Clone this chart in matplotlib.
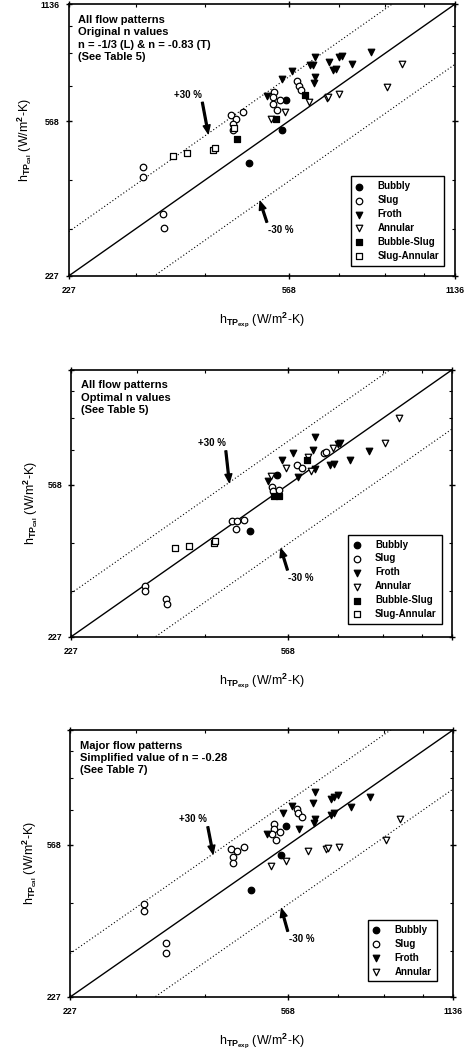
import numpy as np
import matplotlib.pyplot as plt
from matplotlib.ticker import FixedLocator, NullFormatter, FixedFormatter

plt.rcParams['font.family'] = ['Liberation Sans', 'DejaVu Sans']
plt.rcParams['font.weight'] = 'bold'
plt.rcParams['mathtext.fontset'] = 'custom'
plt.rcParams['mathtext.bf'] = 'Liberation Sans:bold'
plt.rcParams['mathtext.rm'] = 'Liberation Sans:bold'
plt.rcParams['mathtext.default'] = 'bf'

# --- panel 1: original n values ---
p1_bubbly_x = [482, 552, 561]
p1_bubbly_y = [442, 540, 645]
p1_slug_x = [309, 309, 336, 337, 446, 456, 450, 450, 470, 535, 533, 531, 540, 548, 588, 593, 598]
p1_slug_y = [432, 407, 328, 301, 588, 575, 559, 539, 598, 676, 656, 630, 606, 645, 719, 699, 684]
p1_froth_x = [518, 552, 577, 634, 620, 628, 634, 632, 671, 700, 708, 683, 693, 739, 800]
p1_froth_y = [658, 729, 763, 832, 794, 790, 736, 712, 808, 830, 835, 768, 772, 799, 854]
p1_annular_x = [560, 527, 617, 665, 669, 702, 855, 910]
p1_annular_y = [600, 576, 638, 650, 655, 666, 695, 799]
p1_bubslug_x = [457, 538, 608]
p1_bubslug_y = [511, 576, 664]
p1_slugann_x = [351, 372, 414, 417, 452]
p1_slugann_y = [462, 470, 480, 484, 545]

# --- panel 2: optimal n values ---
p2_bubbly_x = [483, 543]
p2_bubbly_y = [430, 603]
p2_slug_x = [310, 310, 339, 340, 448, 456, 458, 471, 531, 533, 546, 590, 603, 660, 667]
p2_slug_y = [308, 300, 285, 276, 455, 434, 457, 459, 561, 547, 550, 641, 630, 686, 692]
p2_froth_x = [522, 553, 579, 636, 632, 591, 636, 679, 690, 737, 801, 700, 706]
p2_froth_y = [581, 658, 686, 759, 701, 595, 625, 641, 645, 658, 698, 727, 731]
p2_annular_x = [529, 562, 619, 626, 688, 855, 908]
p2_annular_y = [600, 630, 671, 616, 707, 730, 848]
p2_bubslug_x = [536, 546, 614]
p2_bubslug_y = [529, 531, 660]
p2_slugann_x = [352, 373, 416, 417]
p2_slugann_y = [387, 393, 400, 405]

# --- panel 3: simplified n = -0.28 ---
p3_bubbly_x = [485, 552, 562]
p3_bubbly_y = [434, 534, 636]
p3_slug_x = [310, 310, 339, 340, 447, 457, 451, 451, 472, 536, 534, 531, 540, 548, 590, 593, 602]
p3_slug_y = [397, 381, 315, 296, 555, 546, 529, 510, 560, 646, 626, 605, 586, 614, 705, 690, 672]
p3_froth_x = [520, 555, 578, 635, 630, 635, 632, 594, 680, 690, 701, 679, 690, 739, 801]
p3_froth_y = [607, 688, 720, 782, 730, 665, 650, 627, 748, 758, 769, 681, 688, 714, 758]
p3_annular_x = [529, 563, 618, 665, 671, 702, 857, 907]
p3_annular_y = [500, 515, 546, 555, 558, 561, 586, 664]

lo, hi = 227, 1136
styles = {
    'Bubbly': dict(marker='o', facecolors='black'),
    'Slug': dict(marker='o', facecolors='white'),
    'Froth': dict(marker='v', facecolors='black'),
    'Annular': dict(marker='v', facecolors='white'),
    'Bubble-Slug': dict(marker='s', facecolors='black'),
    'Slug-Annular': dict(marker='s', facecolors='white'),
}


def draw_panel(ax, series, note, xlabels, ylabels, plus_arrow, minus_arrow, legend_anchor):
    ax.set_xscale('log')
    ax.set_yscale('log')
    line = np.array([lo, hi])
    ax.plot(line, line, color='black', lw=1.0, zorder=1)
    ax.plot(line, line * 1.3, color='black', lw=0.8, ls=(0, (1, 2)), zorder=1)
    ax.plot(line, line * 0.7, color='black', lw=0.8, ls=(0, (1, 2)), zorder=1)
    for name, xs, ys in series:
        st = styles[name]
        ax.scatter(xs, ys, s=22, marker=st['marker'], facecolors=st['facecolors'],
                   edgecolors='black', linewidths=0.9, label=name, zorder=3)
    ax.set_xlim(lo, hi)
    ax.set_ylim(lo, hi)
    for axis, labels in ((ax.xaxis, xlabels), (ax.yaxis, ylabels)):
        axis.set_major_locator(FixedLocator([227, 568, 1136]))
        axis.set_major_formatter(FixedFormatter(labels))
        axis.set_minor_locator(FixedLocator([300, 400, 700, 850, 1000]))
        axis.set_minor_formatter(NullFormatter())
    ax.tick_params(which='major', direction='inout', length=5, width=1, labelsize=6.3,
                   top=True, right=True)
    ax.tick_params(which='minor', direction='in', length=2.5, width=0.8, top=True, right=True)
    ax.tick_params(axis='x', pad=5)
    ax.tick_params(axis='y', pad=4)
    for sp in ax.spines.values():
        sp.set_linewidth(1.2)

    ax.text(0.025, 0.96, note, transform=ax.transAxes, ha='left', va='top',
            fontsize=8, linespacing=1.3)

    arrow = dict(facecolor='black', edgecolor='black', width=1.3, headwidth=5,
                 headlength=6, shrink=0.0)
    xh, xt, yt = plus_arrow
    ax.annotate('+30 %', xy=(xh, 1.3 * xh), xytext=(xt, yt), ha='center', va='center',
                fontsize=7, arrowprops=arrow)
    xh, xt, yt = minus_arrow
    ax.annotate('-30 %', xy=(xh, 0.7 * xh), xytext=(xt, yt), ha='center', va='center',
                fontsize=7, arrowprops=arrow)

    leg = ax.legend(loc='lower right', bbox_to_anchor=legend_anchor, fontsize=7,
                    frameon=True, fancybox=False, edgecolor='black', framealpha=1,
                    handlelength=0.8, handletextpad=1.5, borderpad=0.5,
                    labelspacing=0.4, scatterpoints=1)
    leg.get_frame().set_linewidth(1.0)
    ax.set_ylabel(r'h$_{TP_{cal}}$ (W/m$^2$-K)', fontsize=9, labelpad=5)


fig = plt.figure(figsize=(4.68, 10.49), dpi=100)
ax1 = fig.add_axes([0.147, 0.737, 0.825, 0.259])
ax2 = fig.add_axes([0.152, 0.393, 0.814, 0.2545])
ax3 = fig.add_axes([0.150, 0.0496, 0.818, 0.2545])

draw_panel(ax1,
           [('Bubbly', p1_bubbly_x, p1_bubbly_y), ('Slug', p1_slug_x, p1_slug_y),
            ('Froth', p1_froth_x, p1_froth_y), ('Annular', p1_annular_x, p1_annular_y),
            ('Bubble-Slug', p1_bubslug_x, p1_bubslug_y),
            ('Slug-Annular', p1_slugann_x, p1_slugann_y)],
           'All flow patterns\nOriginal n values\nn = -1/3 (L) & n = -0.83 (T)\n(See Table 5)',
           ['227', '568', '1136'], ['227', '568', '1136'],
           (406, 373, 665), (504, 549, 298), (0.985, 0.02))
draw_panel(ax2,
           [('Bubbly', p2_bubbly_x, p2_bubbly_y), ('Slug', p2_slug_x, p2_slug_y),
            ('Froth', p2_froth_x, p2_froth_y), ('Annular', p2_annular_x, p2_annular_y),
            ('Bubble-Slug', p2_bubslug_x, p2_bubslug_y),
            ('Slug-Annular', p2_slugann_x, p2_slugann_y)],
           'All flow patterns\nOptimal n values\n(See Table 5)',
           ['227', '568', ''], ['227', '568', ''],
           (443, 411, 730), (551, 600, 324), (0.985, 0.03))
draw_panel(ax3,
           [('Bubbly', p3_bubbly_x, p3_bubbly_y), ('Slug', p3_slug_x, p3_slug_y),
            ('Froth', p3_froth_x, p3_froth_y), ('Annular', p3_annular_x, p3_annular_y)],
           'Major flow patterns\nSimplified value of n = -0.28\n(See Table 7)',
           ['227', '568', '1136'], ['227', '568', ''],
           (414, 381, 664), (552, 600, 322), (0.97, 0.04))

for ax in (ax1, ax2, ax3):
    ax.set_xlabel(r'h$_{TP_{exp}}$ (W/m$^2$-K)', fontsize=9, labelpad=11)

fig.savefig('out.png', dpi=100)
